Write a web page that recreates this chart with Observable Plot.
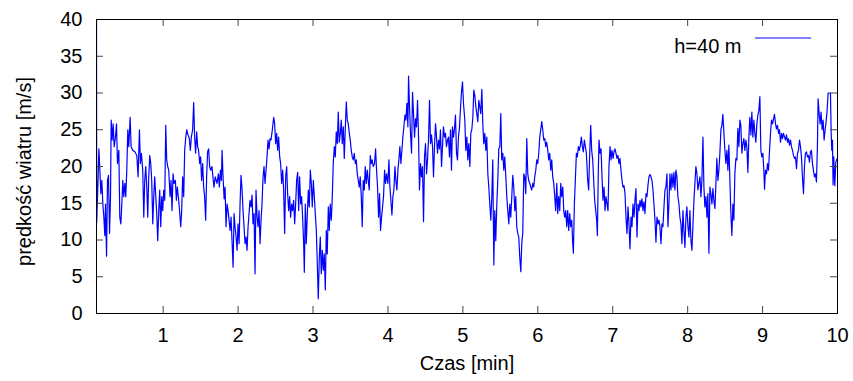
<!DOCTYPE html>
<html><head><meta charset="utf-8">
<script src="https://cdn.jsdelivr.net/npm/d3@7"></script>
<script src="https://cdn.jsdelivr.net/npm/@observablehq/plot@0.6"></script>
<style>
html,body{margin:0;padding:0;background:#fff;}
#chart{width:853px;height:381px;}
</style></head><body><div id="chart"></div>
<script>
// Time [min]
const time = [
0.110,0.113,0.133,0.142,0.155,0.168,0.181,0.195,0.208,0.221,
0.230,0.244,0.257,0.270,0.284,0.297,0.306,0.319,0.332,0.346,
0.363,0.377,0.390,0.408,0.421,0.435,0.448,0.461,0.474,0.488,
0.501,0.514,0.528,0.541,0.559,0.572,0.594,0.621,0.648,0.665,
0.683,0.696,0.710,0.727,0.741,0.754,0.767,0.781,0.794,0.807,
0.821,0.834,0.847,0.861,0.874,0.887,0.901,0.914,0.927,0.941,
0.954,0.967,0.981,0.994,1.007,1.021,1.034,1.047,1.060,1.074,
1.092,1.105,1.118,1.132,1.145,1.163,1.176,1.189,1.207,1.220,
1.234,1.247,1.260,1.274,1.287,1.300,1.314,1.331,1.349,1.362,
1.376,1.393,1.407,1.420,1.433,1.447,1.460,1.473,1.487,1.500,
1.513,1.527,1.540,1.553,1.567,1.580,1.593,1.607,1.620,1.633,
1.651,1.664,1.678,1.695,1.718,
1.737,1.750,1.764,1.777,1.786,1.799,1.813,1.826,1.839,1.853,
1.866,1.879,1.893,1.906,1.919,1.933,1.946,1.959,1.973,1.986,
1.999,2.013,2.026,2.039,2.053,2.066,2.079,2.093,2.106,2.119,
2.133,2.146,2.159,2.173,2.186,2.199,2.213,2.226,2.239,2.253,
2.266,2.279,2.293,2.306,2.319,2.333,2.346,2.359,2.373,2.386,
2.399,2.413,2.426,2.439,2.457,2.475,2.488,2.501,2.515,2.528,
2.541,2.555,2.568,2.581,2.595,2.608,2.621,2.635,2.648,2.661,
2.675,2.688,2.701,2.715,2.728,2.741,2.755,2.768,2.781,2.795,
2.808,2.821,2.835,2.848,2.861,2.875,2.884,2.897,2.910,2.924,
2.937,2.950,2.964,2.977,2.990,3.004,3.017,3.030,3.044,3.057,
3.070,3.084,3.097,3.110,3.124,3.137,3.150,3.164,3.177,3.190,
3.204,3.217,3.230,3.244,3.257,3.270,3.284,3.297,3.310,3.324,
3.337,3.350,3.364,
3.377,3.390,3.404,3.417,3.430,3.444,3.457,3.470,3.484,3.497,
3.510,3.524,3.537,3.550,3.564,3.577,3.590,3.604,3.617,3.630,
3.644,3.657,3.670,3.684,3.697,3.710,3.724,3.737,3.750,3.764,
3.777,3.790,3.804,3.821,3.835,3.848,3.861,3.875,3.888,3.901,
3.915,3.928,3.941,3.955,3.968,3.981,3.999,4.013,4.026,4.039,
4.053,4.066,4.079,4.093,4.106,4.119,4.133,4.146,4.159,4.173,
4.186,4.199,4.213,4.226,4.239,4.253,4.266,4.275,4.288,4.301,
4.315,4.328,4.341,4.355,4.368,4.381,4.395,4.408,4.421,4.435,
4.448,4.461,4.475,4.488,4.501,4.515,4.528,4.541,4.555,4.568,
4.581,4.595,4.608,4.621,4.635,4.648,4.661,4.675,4.688,4.701,
4.715,4.728,4.741,4.755,4.768,4.781,4.795,4.808,4.821,4.835,
4.848,4.861,4.875,4.888,4.901,4.915,4.928,4.941,4.955,4.968,
4.981,4.995,5.008,
5.026,5.039,5.053,5.066,5.079,5.093,5.106,5.119,5.133,5.146,
5.159,5.173,5.186,5.199,5.213,5.226,5.239,5.253,5.266,5.279,
5.293,5.306,5.319,5.333,5.346,5.359,5.373,5.386,5.399,5.413,
5.426,5.439,5.453,5.466,5.479,5.493,5.506,5.519,5.533,5.546,
5.559,5.573,5.586,5.599,5.613,5.626,5.639,5.653,5.666,5.679,
5.693,5.706,5.719,5.733,5.746,5.759,5.773,5.786,5.799,5.813,
5.826,5.839,5.853,5.866,5.879,5.893,5.906,5.919,5.933,5.946,
5.959,5.973,5.986,5.999,6.013,6.026,6.039,6.053,6.066,6.079,
6.093,6.106,6.119,6.133,6.146,6.159,6.173,6.186,6.199,6.213,
6.226,6.239,6.253,6.266,6.279,6.293,6.306,6.319,6.333,6.346,
6.359,6.373,6.386,6.399,6.413,6.426,6.439,6.453,6.466,6.475,
6.488,6.501,6.515,6.528,6.541,6.555,6.568,6.581,6.595,6.608,
6.621,6.635,6.648,
6.666,6.679,6.693,6.706,6.719,6.733,6.746,6.759,6.773,6.786,
6.795,6.808,6.817,6.830,6.844,6.857,6.870,6.884,6.897,6.910,
6.924,6.937,6.950,6.964,6.977,6.990,7.004,7.017,7.030,7.044,
7.057,7.070,7.084,7.097,7.110,7.124,7.137,7.150,7.164,7.177,
7.190,7.204,7.217,7.230,7.244,7.257,7.270,7.284,7.297,7.310,
7.324,7.337,7.350,7.364,7.377,7.390,7.404,7.417,7.430,7.444,
7.457,7.470,7.484,7.497,7.510,7.524,7.537,7.550,7.564,7.577,
7.590,7.604,7.617,7.630,7.644,7.657,7.670,7.684,7.697,7.710,
7.724,7.737,7.750,7.764,7.777,7.790,7.804,7.817,7.830,7.844,
7.857,7.870,7.884,7.897,7.910,7.924,7.937,7.950,7.964,7.977,
7.990,8.004,8.017,8.030,8.044,8.057,8.070,8.084,8.097,8.110,
8.124,8.137,8.150,8.164,8.177,8.190,8.204,8.217,8.230,8.244,
8.257,8.270,8.284,8.297,
8.310,8.324,8.337,8.350,8.364,8.377,8.390,8.404,8.417,8.430,
8.444,8.457,8.470,8.484,8.497,8.510,8.524,8.537,8.550,8.564,
8.577,8.590,8.604,8.617,8.630,8.644,8.657,8.670,8.684,8.697,
8.710,8.724,8.737,8.750,8.764,8.777,8.790,8.804,8.817,8.830,
8.844,8.857,8.870,8.884,8.897,8.910,8.924,8.937,8.950,8.964,
8.977,8.990,9.004,9.017,9.026,9.039,9.053,9.066,9.079,9.093,
9.106,9.119,9.133,9.146,9.159,9.173,9.186,9.199,9.213,9.226,
9.239,9.253,9.266,9.279,9.293,9.306,9.319,9.333,9.346,9.359,
9.373,9.386,9.399,9.413,9.426,9.439,9.453,9.466,9.479,9.493,
9.506,9.519,9.532,9.546,9.559,9.572,9.586,9.599,9.612,9.626,
9.639,9.652,9.666,9.679,9.692,9.706,9.719,9.732,9.741,9.755,
9.768,9.781,9.795,9.808,9.821,9.835,9.848,9.861,9.875,9.906,
9.915,9.924,9.933,9.941,9.950,9.964,9.977,9.990
];

// Wind speed [m/s] at h = 40 m
const speed = [
40.0,12.4,19.0,22.4,19.5,16.3,18.1,14.9,13.1,10.6,
14.9,7.8,18.1,18.8,10.9,15.9,26.3,23.6,25.8,22.7,
24.0,25.8,20.4,22.2,13.1,12.2,14.9,18.1,15.9,17.7,
15.9,19.5,25.0,22.7,26.7,22.7,22.2,22.0,21.5,18.6,
25.0,20.4,21.8,19.5,13.1,18.1,20.0,17.2,13.1,18.6,
21.5,20.4,18.1,12.2,15.9,18.6,15.9,13.6,9.9,14.0,
16.8,11.8,15.9,14.0,16.8,15.4,25.6,20.9,20.0,19.5,
15.9,18.1,14.0,19.0,17.7,18.1,15.4,17.2,15.4,13.8,
11.8,14.0,18.6,15.9,22.2,23.8,25.0,24.3,23.8,22.2,
24.0,25.0,28.7,24.0,21.8,24.7,22.7,22.2,20.4,21.3,
18.1,20.4,17.2,15.9,12.7,18.6,22.0,22.4,20.0,19.5,
20.0,18.6,17.2,18.6,17.7,
19.0,17.2,19.5,18.1,22.2,18.6,15.6,17.2,11.8,14.9,
14.0,12.7,11.3,13.1,9.9,6.3,13.6,11.8,10.4,8.6,
12.2,9.5,14.9,18.8,16.8,14.0,11.8,9.5,10.4,8.6,
11.8,13.6,15.4,14.5,16.1,12.2,13.6,5.4,16.8,13.1,
11.8,14.0,9.5,12.7,14.9,18.6,20.0,17.7,19.5,21.3,
23.6,22.4,23.8,23.6,25.0,26.7,25.8,23.1,24.5,22.2,
24.0,21.3,20.4,17.7,19.5,16.8,10.9,18.6,20.0,16.3,
14.0,15.9,13.1,14.9,14.0,15.4,12.2,14.9,18.1,19.2,
14.0,18.6,14.9,15.9,13.1,9.5,5.6,14.9,9.5,13.6,
16.8,14.5,19.5,17.7,14.5,18.1,15.9,13.6,11.3,6.8,
2.0,7.7,10.4,5.4,8.6,5.9,8.1,3.2,11.3,8.1,
14.5,11.3,14.9,12.7,15.9,20.4,22.7,21.3,24.7,23.1,
27.4,23.3,24.5,
26.3,23.1,25.4,21.1,25.0,28.8,26.3,25.8,24.5,23.6,
22.2,21.3,20.9,21.8,20.4,20.9,19.0,18.1,17.2,18.6,
15.9,11.8,18.1,16.8,20.0,17.7,19.5,18.1,16.8,21.5,
20.4,20.9,20.0,20.4,22.4,19.5,17.2,13.1,16.3,11.3,
13.1,14.5,15.9,19.5,17.7,19.0,17.7,20.9,17.2,15.4,
13.4,15.9,16.8,20.0,18.1,16.8,19.5,20.9,22.7,20.4,
22.2,24.0,25.4,27.0,26.3,28.6,25.4,32.3,28.1,24.5,
21.8,30.1,27.2,24.0,26.5,25.4,29.0,24.0,16.8,20.4,
18.6,20.0,12.5,21.3,23.1,19.0,20.9,23.6,29.0,23.1,
24.3,22.7,18.6,22.7,25.8,24.0,21.8,23.6,22.4,25.0,
20.0,22.7,25.4,24.0,24.5,22.7,23.6,24.0,21.3,25.0,
19.5,25.4,24.0,25.1,27.0,21.8,20.9,24.0,25.4,27.9,
30.1,31.5,28.6,
26.3,22.2,24.0,20.9,23.1,20.0,24.5,25.0,26.7,30.4,
29.7,28.1,27.2,26.1,29.0,28.1,27.2,30.5,25.8,23.1,
24.5,22.2,24.0,19.0,17.2,14.9,12.7,15.9,20.9,6.6,
14.0,9.9,14.9,18.1,22.4,22.7,27.2,20.9,21.8,19.5,
21.3,18.6,15.9,14.0,12.2,14.9,13.1,15.9,18.8,17.2,
14.0,15.9,11.8,10.9,10.4,7.7,5.7,9.5,10.9,19.0,
18.6,16.3,23.8,19.0,18.1,17.7,17.2,16.8,17.7,17.2,
18.6,19.5,20.9,20.4,21.8,24.0,25.0,26.1,25.0,23.6,
23.8,22.7,23.3,22.2,20.9,21.8,19.5,20.9,18.6,17.7,
15.9,14.0,17.7,13.6,15.9,14.0,17.7,15.9,17.2,14.0,
13.1,14.0,11.8,14.0,11.3,13.6,11.8,12.7,9.5,8.2,
14.9,18.1,21.8,21.3,22.7,22.2,22.9,24.0,22.7,22.0,
23.6,22.7,21.8,
18.1,16.8,21.8,25.6,22.2,20.9,18.1,15.4,14.0,12.7,
10.6,19.5,23.6,21.8,22.4,18.6,15.4,17.2,14.0,15.9,
14.9,14.0,20.0,22.7,20.9,22.2,21.1,22.0,22.4,21.8,
21.1,21.5,20.4,21.1,19.5,18.1,17.2,17.4,16.3,13.1,
10.9,14.5,12.2,8.8,13.1,11.8,14.9,13.1,15.4,17.0,
10.4,14.9,14.0,15.4,14.5,15.6,14.0,15.2,13.6,16.3,
15.9,17.4,18.6,18.9,18.6,18.1,16.8,14.9,12.7,9.7,
13.1,12.2,12.7,11.8,9.5,12.2,11.8,14.5,16.8,17.2,
19.0,11.8,14.9,19.0,16.8,19.0,17.2,19.2,16.8,19.5,
18.6,15.9,14.9,13.1,12.2,9.5,14.0,11.3,9.0,13.1,
14.5,11.8,10.4,14.0,9.9,8.6,11.8,15.4,17.7,20.0,
19.0,16.8,17.7,18.6,15.9,18.1,24.0,17.2,14.5,15.9,
13.1,16.3,8.2,17.2,
16.3,14.9,17.0,15.4,14.3,17.7,21.1,18.1,19.5,21.8,
25.0,25.6,27.1,24.5,22.2,20.4,22.2,19.5,22.9,18.1,
13.6,10.6,14.9,12.7,19.0,21.1,20.9,25.2,22.7,26.3,
25.6,21.8,23.1,23.8,22.2,23.6,22.7,19.2,24.0,26.7,
24.3,27.4,24.0,26.3,24.5,23.3,25.8,27.0,27.6,29.5,
22.2,21.3,21.8,19.5,16.9,19.5,19.0,20.4,19.5,22.2,
24.5,26.3,25.8,26.5,27.1,25.8,25.1,25.6,24.5,25.0,
23.3,24.5,23.8,24.5,24.0,23.6,24.3,23.3,23.8,22.9,
23.6,22.7,22.2,21.5,21.1,21.3,19.7,21.8,22.2,23.6,
22.7,21.3,18.6,16.3,20.0,21.8,22.0,21.3,21.5,20.6,
22.0,22.2,20.4,19.5,18.6,19.0,17.9,22.7,29.2,27.2,
25.8,27.4,25.0,26.3,23.6,25.0,26.1,27.6,30.0,30.0,
24.7,22.2,23.6,17.5,21.3,17.4,20.5,21.0
];

const xTicks = [1, 2, 3, 4, 5, 6, 7, 8, 9, 10];
const yTicks = [0, 5, 10, 15, 20, 25, 30, 35, 40];
const seriesLabel = "h=40 m";
const xLabel = "Czas [min]";
const yLabel = "prędkość wiatru [m/s]";

if (time.length !== speed.length) console.warn("length mismatch", time.length, speed.length);
const n = Math.min(time.length, speed.length);
const data = time.slice(0, n).map((t, i) => ({t, v: speed[i]}));

const W = 853, H = 381, mL = 96, mR = 16, mT = 19, mB = 68;
const fw = W - mL - mR, fh = H - mT - mB;
const tickLen = 7;
const lineColor = "#0000ff";

const chart = Plot.plot({
  width: W, height: H,
  marginLeft: mL, marginRight: mR, marginTop: mT, marginBottom: mB,
  style: {fontFamily: "'Liberation Sans', Arial, Helvetica, sans-serif", fontSize: "20px", color: "#000", background: "#fff"},
  x: {domain: [0.11, 10]},
  y: {domain: [0, 40]},
  marks: [
    Plot.line(data, {x: "t", y: "v", stroke: lineColor, strokeWidth: 1.2, clip: true}),
    Plot.tickX(xTicks, {x: d => d, insetTop: fh - tickLen, stroke: "#444"}),
    Plot.tickX(xTicks, {x: d => d, insetBottom: fh - tickLen, stroke: "#444"}),
    Plot.tickY(yTicks, {y: d => d, insetRight: fw - tickLen, stroke: "#444"}),
    Plot.tickY(yTicks, {y: d => d, insetLeft: fw - tickLen, stroke: "#444"}),
    Plot.frame({stroke: "#000"}),
    Plot.axisX(xTicks, {tickSize: 0, tickPadding: 14, label: null, fontSize: 20}),
    Plot.axisY(yTicks, {tickSize: 0, tickPadding: 14, label: null, fontSize: 20}),
    Plot.text([xLabel], {frameAnchor: "bottom", dy: 56, fontSize: 20, fill: "#000"}),
    Plot.text([yLabel], {frameAnchor: "left", textAnchor: "middle", dx: -72, dy: 5, rotate: -90, fontSize: 20, fill: "#000"}),
    Plot.text([seriesLabel], {frameAnchor: "top-right", dx: -96, dy: 19, textAnchor: "end", fontSize: 20, fill: "#000"})
  ]
});

// legend sample line
const lx2 = W - mR - 26, lx1 = lx2 - 56, ly = mT + 19;
d3.select(chart).append("line")
  .attr("x1", lx1).attr("x2", lx2).attr("y1", ly).attr("y2", ly)
  .attr("stroke", lineColor).attr("stroke-width", 1);

document.getElementById("chart").appendChild(chart);
</script>
</body></html>
